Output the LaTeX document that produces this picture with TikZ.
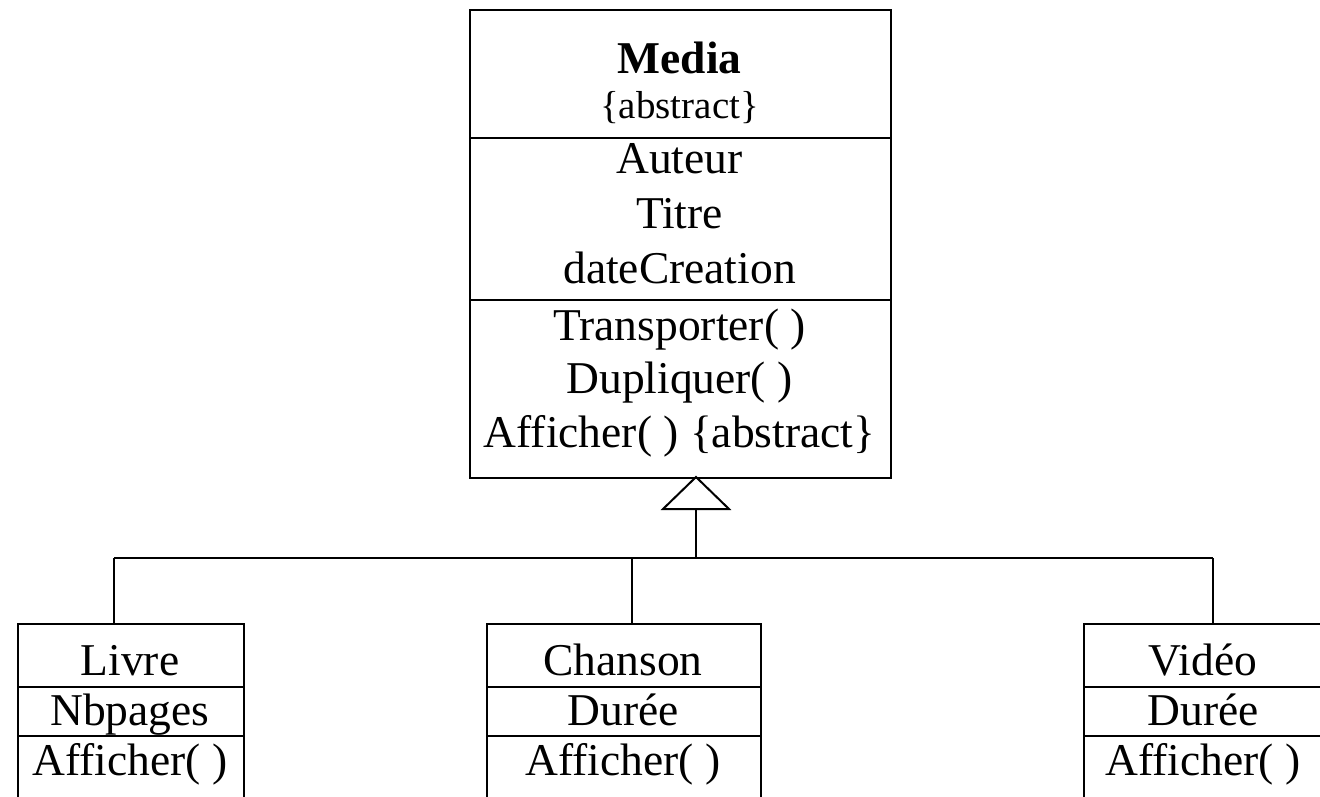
\documentclass[tikz,border=0pt]{standalone}
\usepackage{fontspec}
\setmainfont{Liberation Serif}
\begin{document}
\begin{tikzpicture}[x=1pt,y=-1pt,line width=2pt,
  classbox/.style={draw,rectangle,inner sep=0pt,anchor=north west},
  member/.style={anchor=base,inner sep=0pt,font=\fontsize{45.5}{54}\selectfont},
  tag/.style={anchor=base,inner sep=0pt,font=\fontsize{39}{46}\selectfont}]
\useasboundingbox (0,0) rectangle (1320,796);

% abstract base class
\node[classbox,minimum width=421pt,minimum height=468pt] (media) at (469,9) {};
\draw (469,138) -- (890,138);
\draw (469,300) -- (890,300);
\node[member] (mname) at (679.5,73) {\textbf{Media}};
\node[tag] (mtag) at (679.5,118) {\{abstract\}};
\node[member] (a1) at (679.5,173) {Auteur};
\node[member] (a2) at (679.5,228) {Titre};
\node[member] (a3) at (679.5,283) {dateCreation};
\node[member] (o1) at (679.5,340) {Transporter( )};
\node[member] (o2) at (679.5,393) {Dupliquer( )};
\node[member] (o3) at (679.5,447) {Afficher( ) \{abstract\}};

% subclasses
\node[classbox,minimum width=226pt,minimum height=240pt] (livre) at (17,623) {};
\draw (17,687) -- (243,687);
\draw (17,736) -- (243,736);
\node[member] (lname) at (130,675) {Livre};
\node[member] (lattr) at (130,725) {Nbpages};
\node[member] (lop) at (130,775) {Afficher( )};

\node[classbox,minimum width=274pt,minimum height=240pt] (chanson) at (486,623) {};
\draw (486,687) -- (760,687);
\draw (486,736) -- (760,736);
\node[member] (cname) at (623,675) {Chanson};
\node[member] (cattr) at (623,725) {Durée};
\node[member] (cop) at (623,775) {Afficher( )};

\node[classbox,minimum width=242pt,minimum height=240pt] (video) at (1083,623) {};
\draw (1083,687) -- (1325,687);
\draw (1083,736) -- (1325,736);
\node[member] (vname) at (1203,675) {Vidéo};
\node[member] (vattr) at (1203,725) {Durée};
\node[member] (vop) at (1203,775) {Afficher( )};

% generalization
\coordinate (apex) at (696,477);
\coordinate (tbase) at (696,509);
\coordinate (hub) at (696,558);
\coordinate (lj) at (114,558);
\coordinate (cj) at (632,558);
\coordinate (vj) at (1213,558);
\draw[line join=miter] (apex) -- (663,509) -- (729,509) -- cycle;
\draw (tbase) -- (hub);
\draw (lj) -- (vj);
\draw (lj) -- (lj |- livre.north);
\draw (cj) -- (cj |- chanson.north);
\draw (vj) -- (vj |- video.north);
\end{tikzpicture}
\end{document}
